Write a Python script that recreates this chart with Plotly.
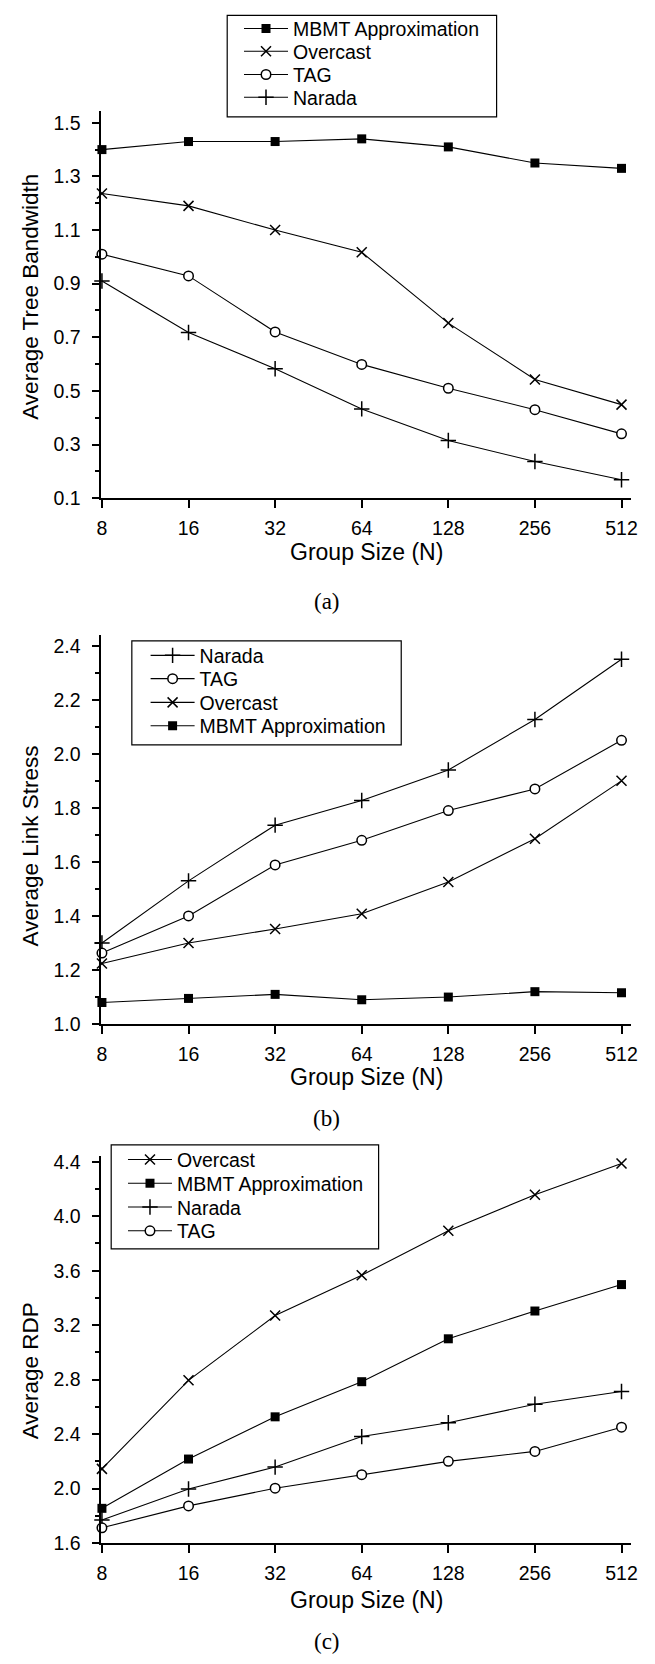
import math
import plotly.graph_objects as go

W, H = 655, 1664

group_sizes = [8, 16, 32, 64, 128, 256, 512]
x_tick_labels = ["8", "16", "32", "64", "128", "256", "512"]

# Panel (a) Average Tree Bandwidth
a_mbmt = [1.40, 1.43, 1.43, 1.44, 1.41, 1.35, 1.33]
a_overcast = [1.236, 1.19, 1.10, 1.017, 0.753, 0.543, 0.449]
a_tag = [1.01, 0.929, 0.72, 0.599, 0.51, 0.43, 0.34]
a_narada = [0.91, 0.718, 0.583, 0.433, 0.315, 0.237, 0.169]

# Panel (b) Average Link Stress
b_narada = [1.30, 1.53, 1.736, 1.827, 1.94, 2.127, 2.35]
b_tag = [1.263, 1.40, 1.589, 1.68, 1.79, 1.87, 2.05]
b_overcast = [1.224, 1.30, 1.352, 1.408, 1.526, 1.686, 1.90]
b_mbmt = [1.08, 1.095, 1.11, 1.09, 1.10, 1.12, 1.116]

# Panel (c) Average RDP
c_overcast = [2.145, 2.795, 3.271, 3.567, 3.893, 4.158, 4.387]
c_mbmt = [1.855, 2.217, 2.527, 2.785, 3.10, 3.304, 3.498]
c_narada = [1.77, 1.997, 2.158, 2.382, 2.484, 2.619, 2.713]
c_tag = [1.712, 1.873, 2.003, 2.102, 2.20, 2.273, 2.451]

y_titles = ["Average Tree Bandwidth", "Average Link Stress", "Average RDP"]
x_title = "Group Size (N)"
captions = ["(a)", "(b)", "(c)"]

FONT = "Arial, Liberation Sans, Helvetica, sans-serif"
SERIF = "Times New Roman, Liberation Serif, serif"


def px_x(p):
    return p / W


def px_y(p):
    return 1 - p / H


styles = {
    "MBMT Approximation": dict(symbol="square", size=9, color="black",
                               line=dict(color="black", width=0)),
    "Overcast": dict(symbol="x-thin", size=10, color="black",
                     line=dict(color="black", width=1.5)),
    "TAG": dict(symbol="circle", size=9.5, color="white",
                line=dict(color="black", width=1.5)),
    "Narada": dict(symbol="cross-thin", size=11, color="black",
                   line=dict(color="black", width=1.5)),
}

panels = [
    dict(series=[("MBMT Approximation", a_mbmt), ("Overcast", a_overcast),
                 ("TAG", a_tag), ("Narada", a_narada)],
         top=107, bottom=498, yrange=[0.1, 1.544], dtick=0.2, tick0=0.1,
         box=(226, 10.5, 500, 113), items=[28, 51, 74.5, 97.5], text_x=293),
    dict(series=[("Narada", b_narada), ("TAG", b_tag),
                 ("Overcast", b_overcast), ("MBMT Approximation", b_mbmt)],
         top=636, bottom=1029, yrange=[1.0, 2.44], dtick=0.2, tick0=1.0,
         box=(129, 642, 403, 747), items=[661, 684.5, 708.5, 732], text_x=198),
    dict(series=[("Overcast", c_overcast), ("MBMT Approximation", c_mbmt),
                 ("Narada", c_narada), ("TAG", c_tag)],
         top=1162, bottom=1553, yrange=[1.6, 4.4436], dtick=0.4, tick0=1.6,
         box=(108, 1151, 380, 1256), items=[1170, 1194, 1218, 1242], text_x=175),
]

PLOT_LEFT, PLOT_RIGHT = 98, 637
xr = [math.log10(8) - 0.002, math.log10(512) + 0.113 * math.log10(2)]
LEG_SHIFT = -4

fig = go.Figure()
layout = dict(
    width=W, height=H, margin=dict(l=0, r=0, t=0, b=0),
    paper_bgcolor="white", plot_bgcolor="white",
    font=dict(family=FONT, color="black"),
    annotations=[], shapes=[],
)

leg_idx = 0
for i, pn in enumerate(panels):
    k = "" if i == 0 else str(i + 1)
    xa, ya = "x" + k, "y" + k
    for j, (name, vals) in enumerate(pn["series"]):
        leg = "legend" if leg_idx == 0 else "legend%d" % (leg_idx + 1)
        leg_idx += 1
        fig.add_trace(go.Scatter(
            x=group_sizes, y=vals, mode="lines+markers", name=name,
            line=dict(color="black", width=1.1),
            marker=styles[name], cliponaxis=False,
            xaxis=xa, yaxis=ya, legend=leg, showlegend=True,
        ))
        layout[leg] = dict(
            x=px_x(pn["text_x"] - 55), y=px_y(pn["items"][j] + LEG_SHIFT),
            xanchor="left", yanchor="middle",
            borderwidth=0, bgcolor="rgba(0,0,0,0)",
            font=dict(size=19.5, family=FONT, color="black"),
            itemwidth=44,
        )
    bx0, by0, bx1, by1 = pn["box"]
    layout["shapes"].append(dict(
        type="rect", xref="paper", yref="paper",
        x0=px_x(bx0), x1=px_x(bx1), y0=px_y(by1), y1=px_y(by0),
        line=dict(color="black", width=1.2), fillcolor="white", layer="above"))

    axis_common = dict(
        showline=True, linecolor="black", linewidth=1.7, showgrid=False,
        zeroline=False, ticks="outside", ticklen=8, tickwidth=1.5,
        tickcolor="black", tickfont=dict(size=19.5, family=FONT, color="black"),
        mirror=False,
    )
    layout["xaxis" + k] = dict(
        axis_common, type="log", range=xr, tickvals=group_sizes,
        ticktext=x_tick_labels, anchor=ya,
        domain=[px_x(PLOT_LEFT), px_x(PLOT_RIGHT)], ticklabelstandoff=4,
    )
    layout["yaxis" + k] = dict(
        axis_common, range=pn["yrange"], tick0=pn["tick0"], dtick=pn["dtick"],
        tickformat=".1f", anchor=xa,
        domain=[px_y(pn["bottom"]), px_y(pn["top"])], ticklabelstandoff=7,
        minor=dict(ticks="outside", ticklen=5, tickwidth=1.5, tickcolor="black",
                   dtick=pn["dtick"] / 2, tick0=pn["tick0"]),
    )

# titles and captions
ytitle_pos = [295, 849, 1379]
xtitle_pos = [552, 1082, 1610]
cap_pos = [602, 1124, 1652]
for i in range(3):
    layout["annotations"].append(dict(
        text=y_titles[i], x=px_x(26), y=px_y(ytitle_pos[i]), xref="paper",
        yref="paper", showarrow=False, textangle=-90,
        font=dict(size=22.5, family=FONT, color="black"),
        xanchor="center", yanchor="middle"))
    layout["annotations"].append(dict(
        text=x_title, x=px_x((PLOT_LEFT + PLOT_RIGHT) / 2), y=px_y(xtitle_pos[i]),
        xref="paper", yref="paper", showarrow=False,
        font=dict(size=23, family=FONT, color="black"),
        xanchor="center", yanchor="middle"))
    layout["annotations"].append(dict(
        text=captions[i], x=px_x(327), y=px_y(cap_pos[i]),
        xref="paper", yref="paper", showarrow=False,
        font=dict(size=23, family=SERIF, color="black"),
        xanchor="center", yanchor="middle"))

fig.update_layout(**layout)
fig.write_html("out.html")
